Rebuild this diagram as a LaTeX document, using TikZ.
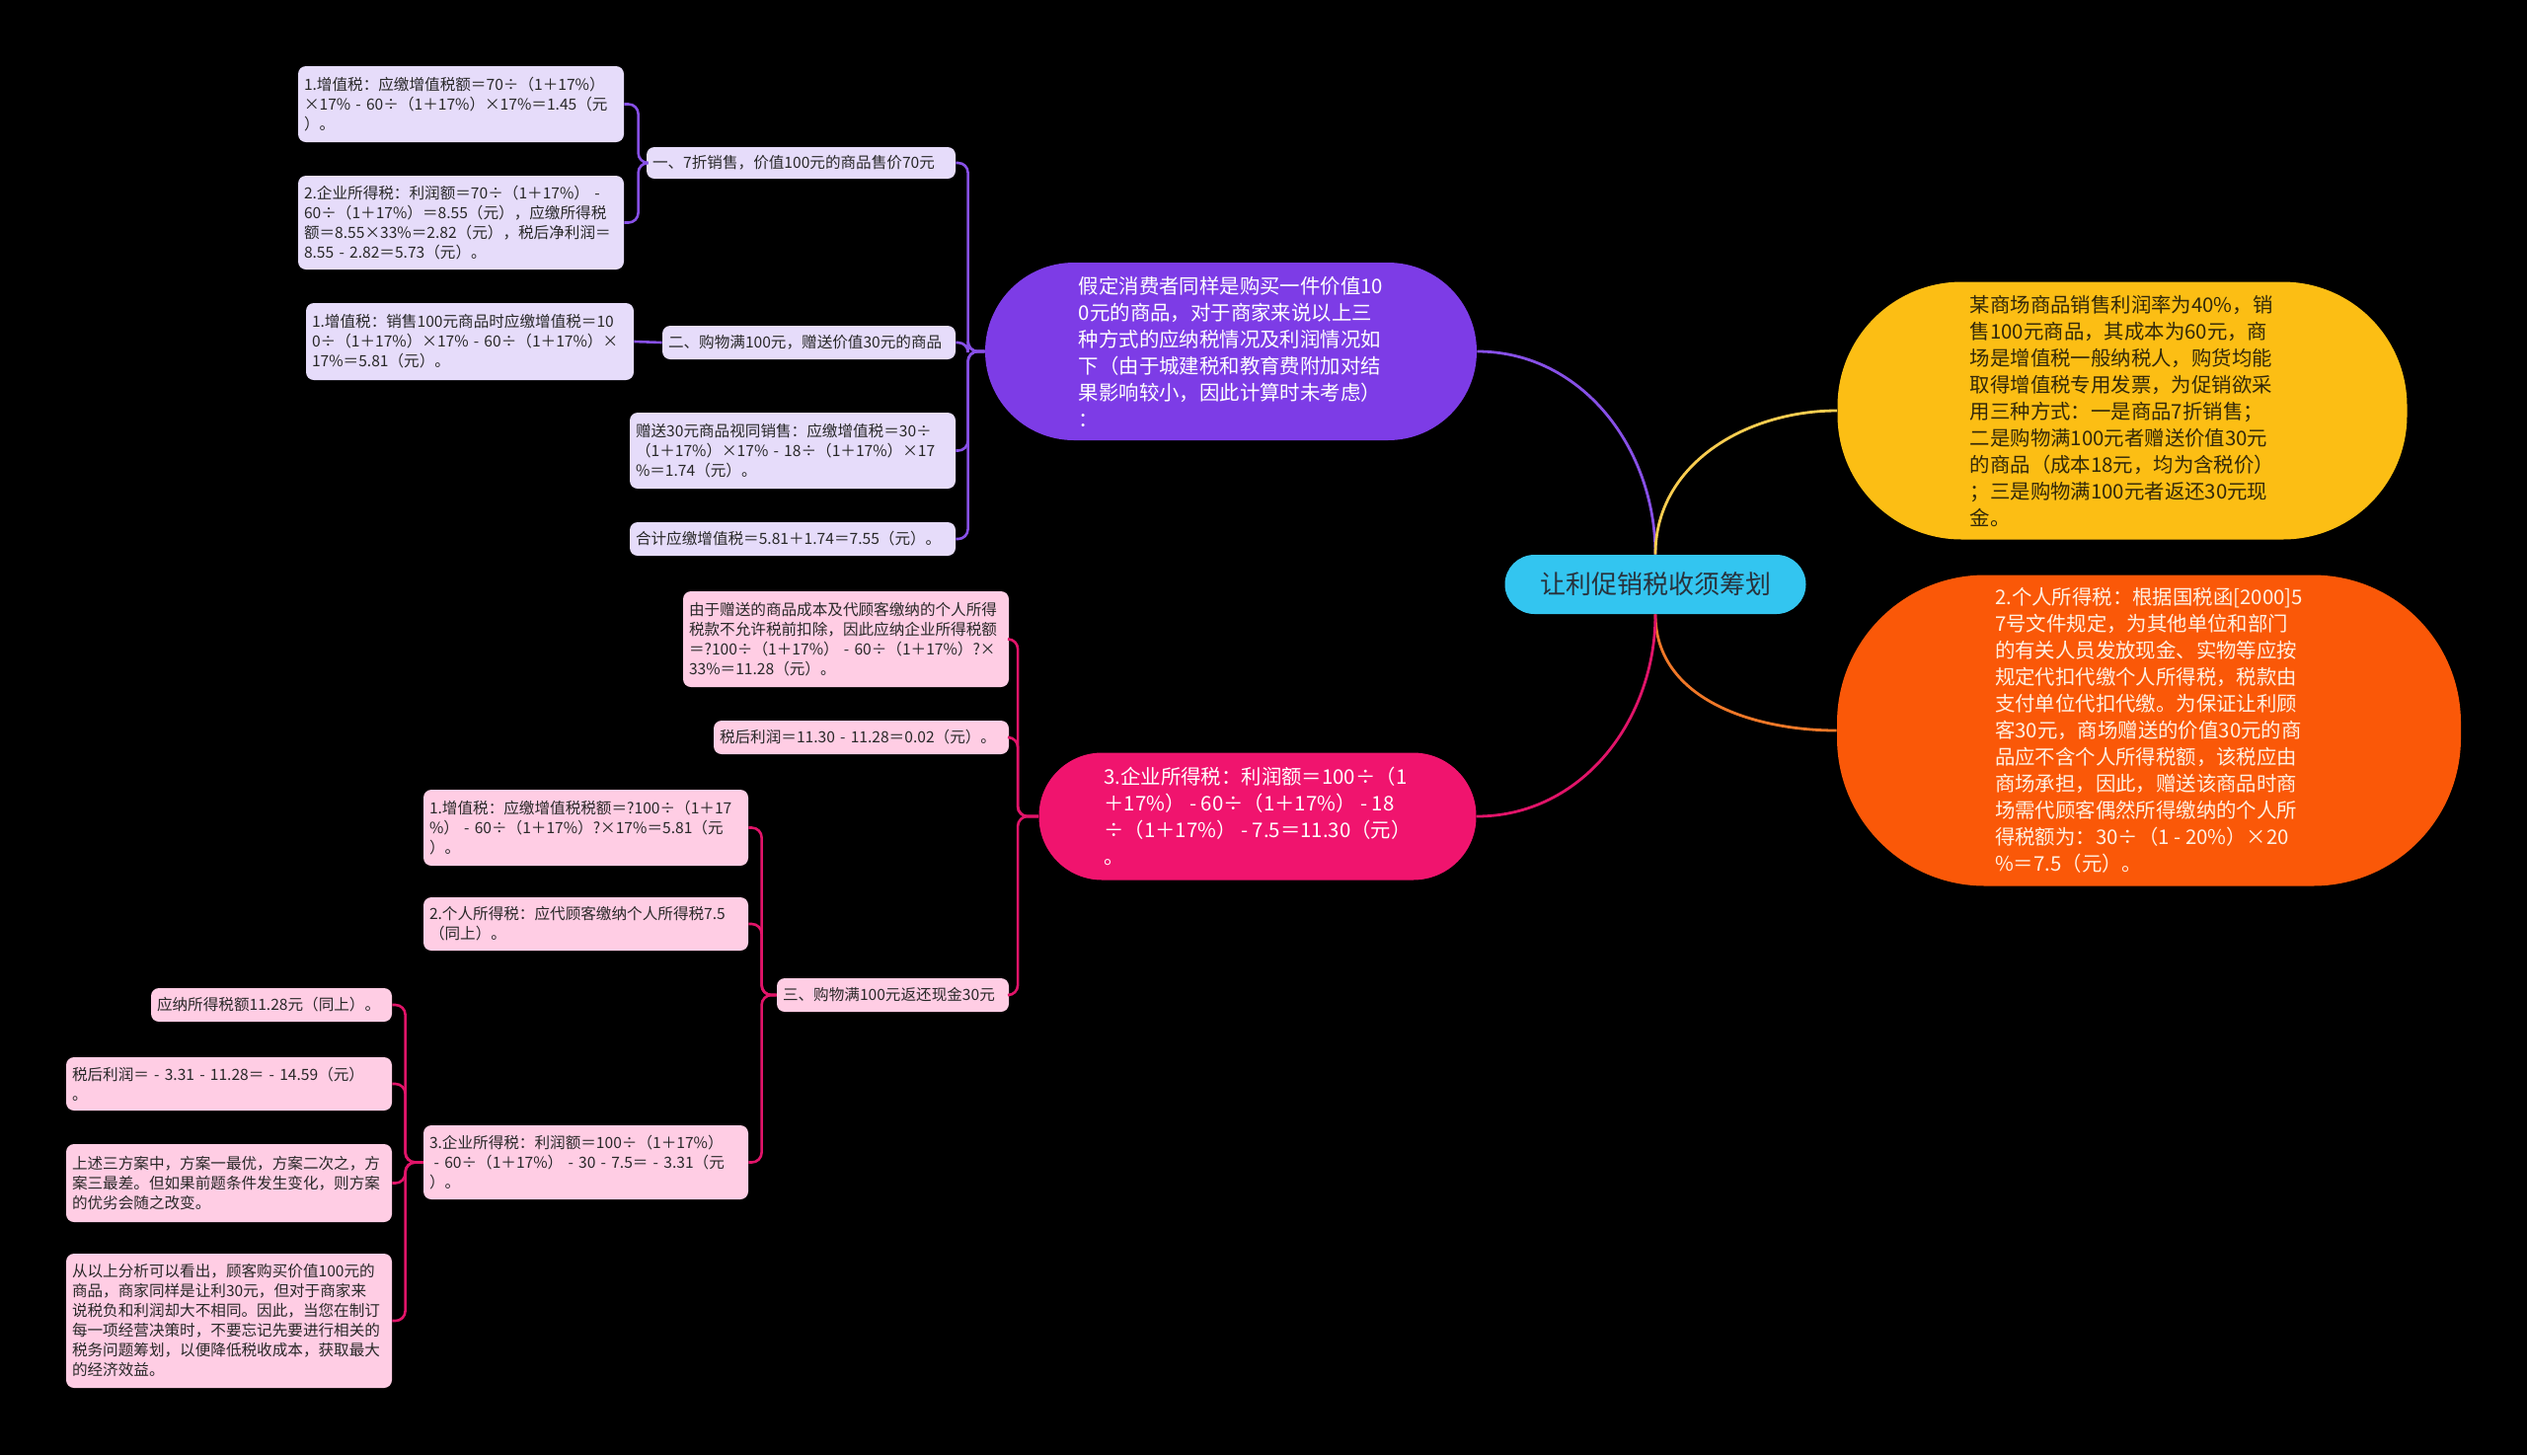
\documentclass[tikz,border=0pt]{standalone}
\usepackage{fontspec}
\setmainfont{Noto Sans CJK SC}
\definecolor{rootfill}{RGB}{51,197,240}
\definecolor{roottext}{RGB}{40,50,60}
\definecolor{yelfill}{RGB}{252,190,20}
\definecolor{yeltext}{RGB}{50,40,10}
\definecolor{yelline}{RGB}{250,205,80}
\definecolor{orafill}{RGB}{250,88,8}
\definecolor{oratext}{RGB}{255,240,225}
\definecolor{oraline}{RGB}{240,120,40}
\definecolor{purfill}{RGB}{125,60,230}
\definecolor{purline}{RGB}{135,80,230}
\definecolor{pinkfill}{RGB}{240,20,110}
\definecolor{pinkline}{RGB}{225,20,105}
\definecolor{lpfill}{RGB}{230,220,250}
\definecolor{lkfill}{RGB}{255,205,228}
\definecolor{txtdark}{RGB}{40,40,40}
\tikzset{
  bigbox/.style={align=left, inner sep=0pt, font=\fontsize{10.2}{13.5}\selectfont},
  smallbox/.style={align=left, inner xsep=3pt, inner ysep=0pt, rounded corners=4pt,
    font=\fontsize{7.8}{10}\selectfont, text=txtdark},
  lpbox/.style={smallbox, fill=lpfill},
  lkbox/.style={smallbox, fill=lkfill},
  conn/.style={line width=1.4pt},
  brk/.style={line width=1.3pt, rounded corners=5pt},
}
\begin{document}
\begin{tikzpicture}[x=0.5pt,y=0.5pt]
\fill[black] (0,0) rectangle (2560,-1474);
\useasboundingbox (0,0) rectangle (2560,-1474);

% root
\node[fill=rootfill, text=roottext, rounded corners=15pt, minimum width=152.5pt, minimum height=30pt,
  inner sep=0pt, font=\fontsize{13}{15}\selectfont] (root) at (1677,-592) {让利促销税收须筹划};

% big nodes
\node[bigbox, fill=yelfill, text=yeltext, minimum width=288.5pt, minimum height=130.5pt, rounded corners=63pt] (yel) at (2150,-416)
{某商场商品销售利润率为40\%，销\\售100元商品，其成本为60元，商\\场是增值税一般纳税人，购货均能\\取得增值税专用发票，为促销欲采\\用三种方式：一是商品7折销售；\\二是购物满100元者赠送价值30元\\的商品（成本18元，均为含税价）\\；三是购物满100元者返还30元现\\金。};

\node[bigbox, fill=orafill, text=oratext, minimum width=316pt, minimum height=157.5pt, rounded corners=75pt] (ora) at (2177,-740)
{2.个人所得税：根据国税函[2000]5\\7号文件规定，为其他单位和部门\\的有关人员发放现金、实物等应按\\规定代扣代缴个人所得税，税款由\\支付单位代扣代缴。为保证让利顾\\客30元，商场赠送的价值30元的商\\品应不含个人所得税额，该税应由\\商场承担，因此，赠送该商品时商\\场需代顾客偶然所得缴纳的个人所\\得税额为：30÷（1 - 20\%）×20\\\%＝7.5（元）。};

\node[bigbox, fill=purfill, text=white, minimum width=249pt, minimum height=90pt, rounded corners=45pt] (pur) at (1247,-356)
{假定消费者同样是购买一件价值10\\0元的商品，对于商家来说以上三\\种方式的应纳税情况及利润情况如\\下（由于城建税和教育费附加对结\\果影响较小，因此计算时未考虑）\\：};

\node[bigbox, fill=pinkfill, text=white, minimum width=221.5pt, minimum height=64.5pt, rounded corners=32pt] (pnk) at (1274,-827)
{3.企业所得税：利润额＝100÷（1\\＋17\%） - 60÷（1＋17\%） - 18\\÷（1＋17\%） - 7.5＝11.30（元）\\。};

% purple group
\node[lpbox, minimum width=156.5pt, text width=150.5pt, minimum height=16pt] (p1) at (811.5,-165) {一、7折销售，价值100元的商品售价70元};
\node[lpbox, minimum width=165pt, text width=159pt, minimum height=38.5pt] (p1a) at (467,-105.5)
{1.增值税：应缴增值税额＝70÷（1＋17\%）\\×17\% - 60÷（1＋17\%）×17\%＝1.45（元\\）。};
\node[lpbox, minimum width=165pt, text width=159pt, minimum height=47.5pt] (p1b) at (467,-225.5)
{2.企业所得税：利润额＝70÷（1＋17\%） -\\60÷（1＋17\%）＝8.55（元），应缴所得税\\额＝8.55×33\%＝2.82（元），税后净利润＝\\8.55 - 2.82＝5.73（元）。};
\node[lpbox, minimum width=148.5pt, text width=142.5pt, minimum height=17pt] (p2) at (819.5,-347) {二、购物满100元，赠送价值30元的商品};
\node[lpbox, minimum width=166pt, text width=160pt, minimum height=39pt] (p2a) at (476,-346)
{1.增值税：销售100元商品时应缴增值税＝10\\0÷（1＋17\%）×17\% - 60÷（1＋17\%）×\\17\%＝5.81（元）。};
\node[lpbox, minimum width=165pt, text width=159pt, minimum height=38.5pt] (p3) at (803,-456.5)
{赠送30元商品视同销售：应缴增值税＝30÷\\（1＋17\%）×17\% - 18÷（1＋17\%）×17\\\%＝1.74（元）。};
\node[lpbox, minimum width=165pt, text width=159pt, minimum height=17pt] (p4) at (803,-546) {合计应缴增值税＝5.81＋1.74＝7.55（元）。};

% pink group
\node[lkbox, minimum width=165pt, text width=159pt, minimum height=48.5pt] (k1) at (857,-647.5)
{由于赠送的商品成本及代顾客缴纳的个人所得\\税款不允许税前扣除，因此应纳企业所得税额\\＝?100÷（1＋17\%） - 60÷（1＋17\%）?×\\33\%＝11.28（元）。};
\node[lkbox, minimum width=149.5pt, text width=143.5pt, minimum height=17pt] (k2) at (872.5,-747) {税后利润＝11.30 - 11.28＝0.02（元）。};
\node[lkbox, minimum width=117.5pt, text width=111.5pt, minimum height=17pt] (k3) at (904.5,-1008) {三、购物满100元返还现金30元};
\node[lkbox, minimum width=164.5pt, text width=158.5pt, minimum height=38.5pt] (k3a) at (593.5,-838.5)
{1.增值税：应缴增值税税额＝?100÷（1＋17\\\%） - 60÷（1＋17\%）?×17\%＝5.81（元\\）。};
\node[lkbox, minimum width=164.5pt, text width=158.5pt, minimum height=27pt] (k3b) at (593.5,-936)
{2.个人所得税：应代顾客缴纳个人所得税7.5\\（同上）。};
\node[lkbox, minimum width=164.5pt, text width=158.5pt, minimum height=37.5pt] (k3c) at (593.5,-1177.5)
{3.企业所得税：利润额＝100÷（1＋17\%）\\\hspace*{0.3em}- 60÷（1＋17\%） - 30 - 7.5＝ - 3.31（元\\）。};
\node[lkbox, minimum width=122pt, text width=116pt, minimum height=17pt] (c1) at (275,-1018) {应纳所得税额11.28元（同上）。};
\node[lkbox, minimum width=165pt, text width=159pt, minimum height=27pt] (c2) at (232,-1098)
{税后利润＝ - 3.31 - 11.28＝ - 14.59（元）\\。};
\node[lkbox, minimum width=165pt, text width=159pt, minimum height=39.5pt] (c3) at (232,-1198.5)
{上述三方案中，方案一最优，方案二次之，方\\案三最差。但如果前题条件发生变化，则方案\\的优劣会随之改变。};
\node[lkbox, minimum width=165pt, text width=159pt, minimum height=68pt] (c4) at (232,-1338)
{从以上分析可以看出，顾客购买价值100元的\\商品，商家同样是让利30元，但对于商家来\\说税负和利润却大不相同。因此，当您在制订\\每一项经营决策时，不要忘记先要进行相关的\\税务问题筹划，以便降低税收成本，获取最大\\的经济效益。};

% main connectors
\draw[conn, purline] (root.north) to[out=90,in=0] (pur.east);
\draw[conn, yelline] (root.north) to[out=90,in=180] (yel.west);
\draw[conn, oraline] (root.south) to[out=-90,in=180] (ora.west);
\draw[conn, pinkline] (root.south) to[out=-90,in=0] (pnk.east);

% purple brackets
\foreach \c in {p1,p2,p3,p4}
  \draw[brk, purline] (pur.west) -- ++(-17,0) |- (\c.east);
\foreach \c in {p1a,p1b}
  \draw[brk, purline] (p1.west) -- ++(-8,0) |- (\c.east);
\draw[brk, purline] (p2.west) -- (p2a.east);

% pink brackets
\foreach \c in {k1,k2,k3}
  \draw[brk, pinkline] (pnk.west) -- ++(-21,0) |- (\c.east);
\foreach \c in {k3a,k3b,k3c}
  \draw[brk, pinkline] (k3.west) -- ++(-15,0) |- (\c.east);
\foreach \c in {c1,c2,c3,c4}
  \draw[brk, pinkline] (k3c.west) -- ++(-18,0) |- (\c.east);
\end{tikzpicture}
\end{document}
